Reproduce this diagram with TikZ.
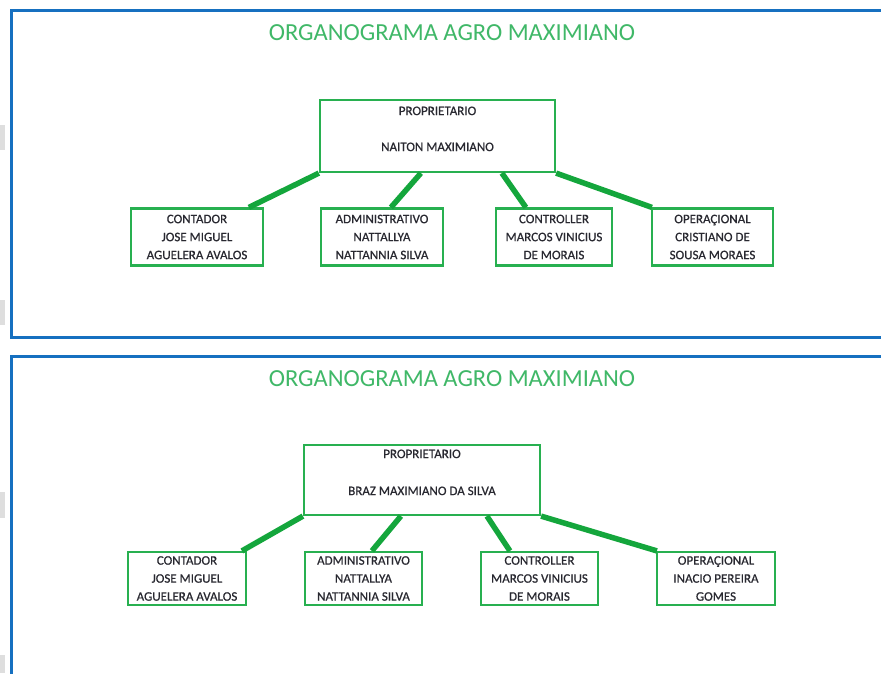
\documentclass[tikz,border=0pt]{standalone}
\usepackage{fontspec}
\setmainfont{Carlito}
\newfontfamily\boxfont[FakeBold=0.6]{Carlito}
\usetikzlibrary{calc}
\definecolor{panelblue}{RGB}{22,112,192}
\definecolor{titlegreen}{RGB}{64,184,104}
\definecolor{boxgreen}{RGB}{40,176,80}
\definecolor{linkgreen}{RGB}{20,166,60}
\definecolor{txtgray}{RGB}{40,40,48}
\definecolor{shadegray}{RGB}{222,222,222}
\tikzset{
  panel/.style={draw=panelblue, line width=3pt},
  title/.style={text=titlegreen, font=\fontsize{24.5}{28}\selectfont, inner sep=0pt},
  orgbox/.style={draw=boxgreen, line width=2.2pt, fill=white, inner sep=0pt, align=center,
     text=txtgray, font=\boxfont\fontsize{13}{18}\selectfont},
  lbl/.style={text=txtgray, font=\boxfont\fontsize{13}{18}\selectfont, inner sep=0pt},
  link/.style={draw=linkgreen, line width=5.5pt},
}
\begin{document}
\begin{tikzpicture}[x=1pt,y=-1pt]
\useasboundingbox (0,0) rectangle (881,673);
\fill[white] (0,0) rectangle (881,673);
% faint shadow marks at left edge
\fill[shadegray] (0,125) rectangle (5,150);
\fill[shadegray] (0,300) rectangle (5,325);
\fill[shadegray] (0,492) rectangle (5,518);
\fill[shadegray] (0,655) rectangle (5,673);
% panels
\draw[panel] (11,10) rectangle (900,337);
\draw[panel] (11,356) rectangle (900,720);
% ---------- top chart ----------
\node[title] (t1) at (452,33) {ORGANOGRAMA AGRO MAXIMIANO};
\node[orgbox, minimum width=235, minimum height=72] (pa) at (437.5,136) {};
\node[lbl] (pa1) at ([yshift=-12]pa.north) {PROPRIETARIO};
\node[lbl] (pa2) at ([yshift=-48]pa.north) {NAITON MAXIMIANO};
\node[orgbox, minimum width=132, minimum height=57] (a1) at (197,237) {CONTADOR\\JOSE MIGUEL\\AGUELERA AVALOS};
\node[orgbox, minimum width=122, minimum height=57] (a2) at (382,237) {ADMINISTRATIVO\\NATTALLYA\\NATTANNIA SILVA};
\node[orgbox, minimum width=116, minimum height=57] (a3) at (554,237) {CONTROLLER\\MARCOS VINICIUS\\DE MORAIS};
\node[orgbox, minimum width=121, minimum height=57] (a4) at (712.5,237) {OPERAÇIONAL\\CRISTIANO DE\\SOUSA MORAES};
\draw[link] (pa.south west) -- ([xshift=119]a1.north west);
\draw[link] ([xshift=102]pa.south west) -- ([xshift=71]a2.north west);
\draw[link] ([xshift=183]pa.south west) -- ([xshift=31]a3.north west);
\draw[link] (pa.south east) -- ([xshift=1]a4.north west);
% ---------- bottom chart ----------
\node[title] (t2) at (452,379) {ORGANOGRAMA AGRO MAXIMIANO};
\node[orgbox, minimum width=236, minimum height=70] (pb) at (422,480) {};
\node[lbl] (pb1) at ([yshift=-10]pb.north) {PROPRIETARIO};
\node[lbl] (pb2) at ([yshift=-47]pb.north) {BRAZ MAXIMIANO DA SILVA};
\node[orgbox, minimum width=118, minimum height=53] (b1) at (187,578.5) {CONTADOR\\JOSE MIGUEL\\AGUELERA AVALOS};
\node[orgbox, minimum width=117, minimum height=53] (b2) at (363.5,578.5) {ADMINISTRATIVO\\NATTALLYA\\NATTANNIA SILVA};
\node[orgbox, minimum width=117, minimum height=53] (b3) at (539.5,578.5) {CONTROLLER\\MARCOS VINICIUS\\DE MORAIS};
\node[orgbox, minimum width=118, minimum height=53] (b4) at (716,578.5) {OPERAÇIONAL\\INACIO PEREIRA\\GOMES};
\draw[link] (pb.south west) -- ([xshift=115]b1.north west);
\draw[link] ([xshift=98]pb.south west) -- ([xshift=68]b2.north west);
\draw[link] ([xshift=184]pb.south west) -- ([xshift=30]b3.north west);
\draw[link] (pb.south east) -- ([xshift=1]b4.north west);
\end{tikzpicture}
\end{document}
